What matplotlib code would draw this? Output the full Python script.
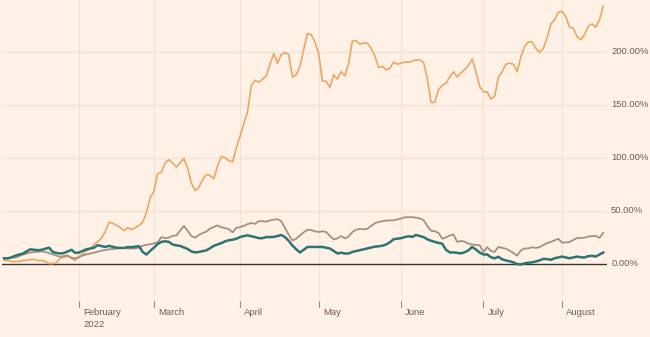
import matplotlib
matplotlib.use("Agg")
import matplotlib.pyplot as plt
import matplotlib.transforms as mtransforms
import pandas as pd
import numpy as np

# ---- data (percentage change since start) ----
start_date = "2022-01-04"
end_date = "2022-08-16"

orange_vals = [
    3, 3, 2, 2, 2, 3, 3, 4, 4, 3, 3, 2, 0, 0, 1, 5, 6, 7, 5, 3,
    7, 9, 12, 14, 18, 21, 24, 30, 39, 38, 36, 34, 31, 34, 32, 34, 36, 39, 48, 62,
    68, 85, 86, 95, 98, 95, 91, 95, 99, 90, 76, 69, 72, 79, 84, 83, 80, 92, 101, 100,
    97, 96, 109, 120, 132, 143, 168, 173, 171, 174, 177, 188, 198, 189, 197, 199, 197, 176, 178, 186,
    202, 217, 216, 209, 198, 172, 172, 166, 178, 174, 181, 177, 189, 210, 210, 207, 208, 208, 203, 196,
    185, 186, 183, 184, 190, 188, 189, 190, 190, 191, 192, 192, 190, 175, 152, 152, 164, 168, 170, 176,
    181, 176, 180, 183, 187, 193, 181, 167, 162, 162, 155, 158, 176, 181, 188, 189, 188, 181, 195, 205,
    209, 209, 203, 199, 203, 213, 226, 230, 237, 238, 233, 223, 222, 214, 211, 216, 224, 226, 223, 230,
    243,
]

gray_vals = [
    5, 5.2, 5.5, 5.8, 7, 8.5, 9.5, 10.5, 10.8, 11.2, 11.5, 11, 9.8, 8.6, 7.5, 6.4, 7.2, 7.6, 5.5, 5,
    6, 7.8, 8.7, 9.5, 10.3, 11.3, 12.2, 12.8, 13.4, 13.8, 14.2, 14.5, 14.7, 14.3, 14.2, 14.2, 15.2, 16.8, 17.7, 18.2,
    19, 20.2, 25, 24, 24.5, 26.2, 26.6, 31, 35.5, 31, 26, 24.5, 27, 28.8, 30.2, 33, 34.6, 36, 34.2, 33.5,
    32.5, 29.5, 33.6, 34.4, 35.6, 37.2, 38.3, 37.5, 40, 40, 39.5, 40.7, 41.4, 41.9, 40, 33.5, 27.2, 21.8, 23.5, 26.5,
    29.5, 32, 31.6, 30.4, 29.9, 30.4, 29.8, 26, 23, 23.7, 26, 23.8, 25.5, 29.8, 32, 32.7, 32.3, 32.8, 35.5, 38,
    39.3, 40, 40.6, 40.7, 40.8, 41.6, 42.5, 43.7, 43.8, 43.8, 43.3, 42.6, 41, 35.6, 31, 30.5, 29, 23.5, 24.7, 26.5,
    27.5, 20.4, 21.4, 20.7, 18.7, 18, 17.6, 17.3, 11, 15.5, 12, 11, 15.7, 14.8, 14, 12.2, 10, 7.5, 12.5, 14.2,
    14.3, 15.4, 14.8, 15.5, 17.6, 19.3, 20.5, 22, 23.4, 19.8, 20, 20.4, 22.2, 24.1, 24.1, 24.5, 25.5, 26, 26, 24.3,
    29,
]

teal_vals = [
    5, 5, 6, 7.5, 8.5, 9.5, 11.5, 13.5, 13, 12.6, 13, 14, 15, 11, 10, 9.5, 10, 11.5, 13, 10,
    10.5, 12, 13.5, 14.3, 15, 17.5, 16.5, 15.8, 16.7, 15.8, 15, 14.8, 14.8, 15.6, 15.5, 16, 16.5, 11, 8.5, 12,
    15, 18.5, 20.5, 21, 20.5, 18, 17.2, 16.7, 15.2, 13.8, 11.5, 10.5, 11, 11.8, 12.5, 14.5, 16.8, 18, 19.3, 21,
    22, 22.5, 23.5, 25, 26, 26.6, 25.8, 25, 24, 24, 25, 25, 25.2, 26, 27, 25, 21.5, 17, 13.5, 10.5,
    13, 15.7, 15.7, 15.7, 15.7, 15.7, 15, 14.2, 12, 9.5, 10.3, 9.5, 9.5, 11, 11.8, 12.6, 13.4, 14.3, 15.2, 16,
    16.3, 16.8, 18, 20, 23, 23.5, 24, 25, 25.8, 25.2, 27, 26, 25, 23, 21.5, 20.5, 19.5, 18.8, 13, 10.5,
    10.5, 10.2, 9.6, 10.7, 12.5, 15.7, 13.3, 10.4, 8.6, 8.6, 6, 5, 6.4, 4, 3, 2.2, 1.2, -0.5, -0.8, 0.2,
    0.8, 1.2, 2, 3, 4.5, 4.2, 3.6, 5, 5.8, 6.6, 5.8, 5, 5.8, 6.6, 6, 5.8, 7, 7.3, 6.7, 8.5,
    10.4,
]

y_ticks = [0, 50, 100, 150, 200]
y_tick_labels = ["0.00%", "50.00%", "100.00%", "150.00%", "200.00%"]
month_labels = ["February\n2022", "March", "April", "May", "June", "July", "August"]

# ---- styling ----
BG = "#FFF1E5"
GRID = "#F0E2D6"
TXT = "#66605C"
TICK = "#9A918A"
C_ORANGE = "#ECA663"
C_GRAY = "#A39183"
C_TEAL = "#2C7574"

plt.rcParams["font.family"] = ["Liberation Sans", "DejaVu Sans"]

# trading-day axis
calendar = pd.bdate_range("2022-01-03", end_date)
data_dates = pd.bdate_range(start_date, end_date)
x = calendar.get_indexer(data_dates)

month_first = pd.Series(np.arange(len(calendar)), index=calendar)
month_first = month_first.groupby([calendar.year, calendar.month]).min().values[1:]

FIG_H = 337
AX_BOTTOM_PX = 297
fig = plt.figure(figsize=(6.5, 3.37), dpi=100, facecolor=BG)
ax = fig.add_axes([2 / 650, (FIG_H - AX_BOTTOM_PX) / FIG_H, 605 / 650, AX_BOTTOM_PX / FIG_H],
                  facecolor=BG)

for yv in y_ticks[1:]:
    ax.axhline(yv, color=GRID, lw=0.9, zorder=1)
for xv in month_first:
    ax.axvline(xv, color=GRID, lw=0.9, zorder=1)
ax.axhline(0, color="#3A3532", lw=1.0, zorder=2)

ax.plot(x, orange_vals, color=C_ORANGE, lw=1.2, zorder=3, solid_joinstyle="round")
ax.plot(x, gray_vals, color=C_GRAY, lw=1.3, zorder=4, solid_joinstyle="round")
ax.plot(x, teal_vals, color=C_TEAL, lw=1.8, zorder=5, solid_joinstyle="round")

ax.set_xlim(0.43, 162.0)
ax.set_ylim(-31.5, 248.6)

for s in ax.spines.values():
    s.set_visible(False)
ax.set_xticks([])
ax.set_yticks([])

# y labels on right
ytrans = mtransforms.blended_transform_factory(ax.transAxes, ax.transData)
for yv, lab in zip(y_ticks, y_tick_labels):
    ax.annotate(lab, xy=(1, yv), xycoords=ytrans, xytext=(3, 0), textcoords="offset points",
                ha="left", va="center", fontsize=6.8, color=TXT, annotation_clip=False)

# x ticks (detached small marks) and labels
xtrans = mtransforms.blended_transform_factory(ax.transData, ax.transAxes)
px = 1.0 / AX_BOTTOM_PX
for xv, lab in zip(month_first, month_labels):
    ax.plot([xv, xv], [-4 * px, -10 * px], transform=xtrans, color=TICK, lw=0.8,
            clip_on=False, zorder=2)
    ax.annotate(lab, xy=(xv, 0), xycoords=xtrans, xytext=(3, -7.6), textcoords="offset points",
                ha="left", va="top", fontsize=6.8, color=TXT, linespacing=1.45,
                annotation_clip=False)

fig.savefig("out.png", dpi=100, facecolor=BG)
